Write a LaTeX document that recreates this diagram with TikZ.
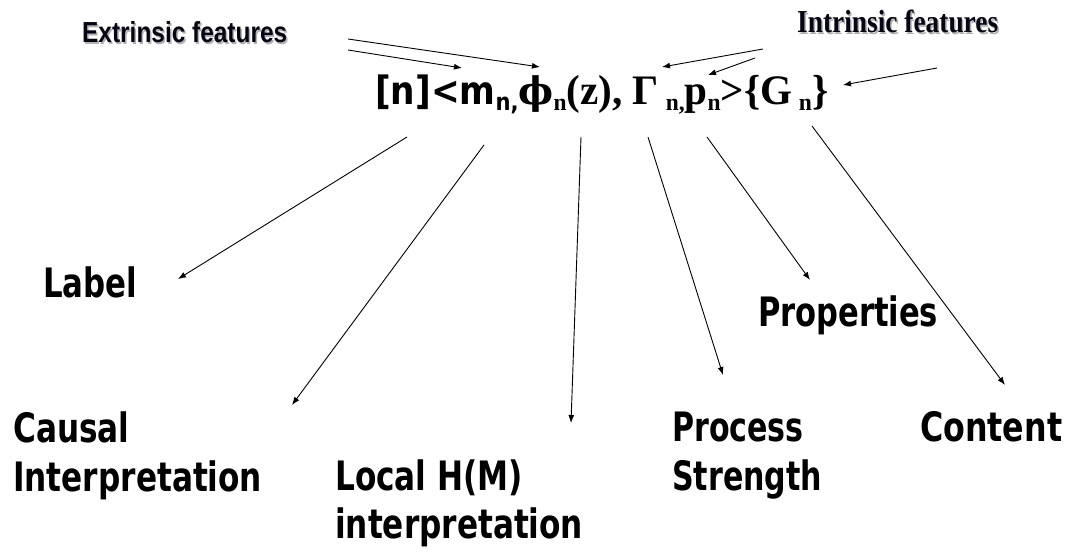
\documentclass[tikz,border=0pt]{standalone}
\usepackage{fontspec}
\usepackage{graphicx}
\usetikzlibrary{arrows.meta}
\setmainfont{Liberation Serif}
\newfontfamily\labfont{DejaVu Sans Condensed Bold}
\newfontfamily\hdsans{Liberation Sans}
\newfontfamily\dvserif{DejaVu Serif}
\newcommand{\fitw}[2]{\resizebox{#1}{\height}{#2}}
\newcommand{\lowsub}[1]{\raisebox{-6pt}{\fontsize{24}{26}\selectfont #1}}
\definecolor{hdtext}{RGB}{5,5,20}
\tikzset{
  lab/.style={anchor=base west, inner sep=0pt, font=\labfont\fontsize{40.5}{48}\selectfont},
  hdr/.style={anchor=base west, inner sep=0pt, text=hdtext},
  hdshadow/.style={anchor=base west, inner sep=0pt, text=gray!60},
  arr/.style={-{Latex[length=8pt,width=6pt]}, line width=0.9pt, black},
}
\begin{document}
\begin{tikzpicture}[x=1pt,y=-1pt]
\useasboundingbox (0,0) rectangle (1072,553);
\fill[white] (0,0) rectangle (1072,553);

% headers with shadow
\node[hdshadow] (extS) at (83.5,44.5) {\fitw{205pt}{\hdsans\bfseries\fontsize{29}{30}\selectfont Extrinsic features}};
\node[hdr] (ext) at (82,43) {\fitw{205pt}{\hdsans\bfseries\fontsize{29}{30}\selectfont Extrinsic features}};
\node[hdshadow] (intS) at (798.5,34.5) {\fitw{201pt}{\bfseries\fontsize{32}{34}\selectfont Intrinsic features}};
\node[hdr] (int) at (797,33) {\fitw{201pt}{\bfseries\fontsize{32}{34}\selectfont Intrinsic features}};

% formula
\node[anchor=base west, inner sep=0pt] (formula) at (375,105) {\fitw{453pt}{\fontsize{42}{44}\selectfont\bfseries
  {\labfont\fontsize{39}{40}\selectfont [n]<m\lowsub{n,}}{\dvserif\bfseries\fontsize{38}{40}\selectfont ϕ}\lowsub{n}(z), Γ\,\lowsub{n,}p\lowsub{n}>\{G\,\lowsub{n}\}}};

% lower labels
\node[lab] (label) at (43,298) {\fitw{94pt}{Label}};
\node[lab] (causal) at (13,443) {\fitw{249pt}{\begin{tabular}[t]{@{}l@{}}Causal\\Interpretation\end{tabular}}};
\node[lab] (local) at (335,490) {\fitw{248pt}{\begin{tabular}[t]{@{}l@{}}Local H(M)\\interpretation\end{tabular}}};
\node[lab] (props) at (758,327) {\fitw{180pt}{Properties}};
\node[lab] (process) at (672,442) {\fitw{150pt}{\begin{tabular}[t]{@{}l@{}}Process\\Strength\end{tabular}}};
\node[lab] (content) at (920,442) {\fitw{142pt}{Content}};

% connector end points
\coordinate (e1s) at (348,39);  \coordinate (e1t) at (540,67);
\coordinate (e2s) at (348,50);  \coordinate (e2t) at (462,68);
\coordinate (i1s) at (763,49);  \coordinate (i1t) at (662,67);
\coordinate (i2s) at (755,58);  \coordinate (i2t) at (708,75);
\coordinate (i3s) at (937,68);  \coordinate (i3t) at (843,85);

\coordinate (dLs) at (407,137); \coordinate (dLt) at (178,279);
\coordinate (dCs) at (484,145); \coordinate (dCt) at (292,405);
\coordinate (dHs) at (581,137); \coordinate (dHt) at (571,423);
\coordinate (dPs) at (648,137); \coordinate (dPt) at (723,375);
\coordinate (dRs) at (707,137); \coordinate (dRt) at (810,280);
\coordinate (dTs) at (812,126); \coordinate (dTt) at (1005,385);

\draw[arr] (e1s) -- (e1t);
\draw[arr] (e2s) -- (e2t);
\draw[arr] (i1s) -- (i1t);
\draw[arr] (i2s) -- (i2t);
\draw[arr] (i3s) -- (i3t);

\draw[arr] (dLs) -- (dLt);
\draw[arr] (dCs) -- (dCt);
\draw[arr] (dHs) -- (dHt);
\draw[arr] (dPs) -- (dPt);
\draw[arr] (dRs) -- (dRt);
\draw[arr] (dTs) -- (dTt);
\end{tikzpicture}
\end{document}
